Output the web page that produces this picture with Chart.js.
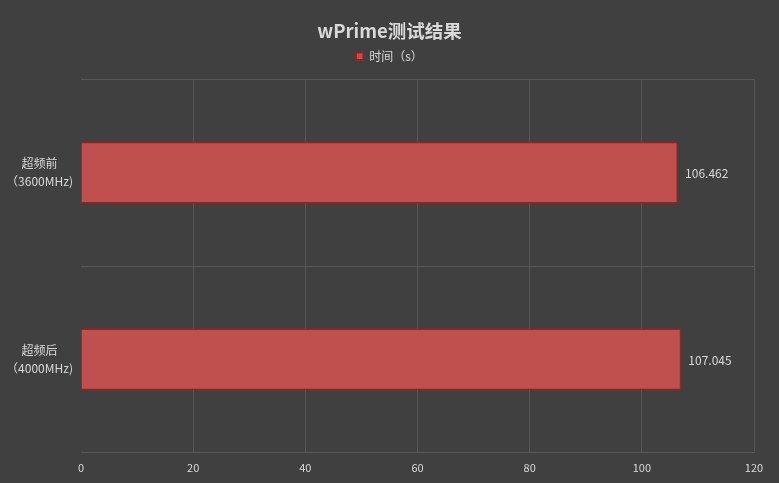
<!DOCTYPE html>
<html><head><meta charset="utf-8">
<script src="https://cdn.jsdelivr.net/npm/chart.js@4"></script>
<style>html,body{margin:0;padding:0;background:#404040;}#wrap{width:779px;height:483px;}</style>
</head><body><div id="wrap"><canvas id="c" width="779" height="483"></canvas></div>
<script>
const categories = [["超频前","（3600MHz)"],["超频后","（4000MHz)"]];
const values = [106.462, 107.045];
const valueLabels = ["106.462","107.045"];
const seriesName = "时间（s）";
const titleText = "wPrime测试结果";
const xTicks = [0,20,40,60,80,100,120];

const FONT = "'Noto Sans CJK SC','Noto Sans',sans-serif";
const valueLabelPlugin = {
  id:'vl',
  afterDatasetsDraw(chart){
    const ctx = chart.ctx;
    const meta = chart.getDatasetMeta(0);
    ctx.save();
    ctx.fillStyle = '#d9d9d9';
    ctx.font = "12px " + FONT;
    ctx.textBaseline = 'middle';
    meta.data.forEach((b,i)=>{ ctx.fillText(valueLabels[i], b.x + 7, b.y + 1); });
    ctx.restore();
  }
};
const bg = {id:'bg', beforeDraw(c){const x=c.ctx;x.save();x.fillStyle='#404040';x.fillRect(0,0,c.width,c.height);x.restore();}};
const legendGap = {id:'lgap', beforeLayout(chart){
  const lg = chart.legend;
  if (lg && !lg._wrapped){ const f = lg.fit; lg.fit = function(){ f.call(this); this.height += 7; }; lg._wrapped = true; }
}};

new Chart(document.getElementById('c'), {
  type:'bar',
  data:{labels:categories, datasets:[{label:seriesName, data:values, backgroundColor:'#c0504d', borderColor:'#a51c1c', borderWidth:1.5, barPercentage:0.66, categoryPercentage:0.5}]},
  options:{
    indexAxis:'y', responsive:false, animation:false,
    layout:{padding:{left:0,right:0,top:0,bottom:1}},
    plugins:{
      title:{display:true,text:titleText,color:'#d9d9d9',font:{family:FONT,size:18.5,weight:'bold'},padding:{top:20,bottom:0}},
      legend:{display:true,labels:{color:'#d9d9d9',font:{family:FONT,size:12},boxWidth:7,boxHeight:7,padding:8},onClick:null},
      tooltip:{enabled:false}
    },
    scales:{
      x:{min:0,max:120,afterBuildTicks(s){s.ticks=xTicks.map(v=>({value:v}));},
        afterFit(s){s.paddingRight=25;},
        grid:{color:(c)=>c.tick && c.tick.value===0 ? 'rgba(0,0,0,0)' : '#575757',drawTicks:false},border:{display:false},
        ticks:{color:'#d9d9d9',font:{family:FONT,size:11},padding:8}},
      y:{grid:{color:'#575757',drawTicks:false,offset:true},border:{display:false},
        afterFit(s){s.width=81;},
        ticks:{color:'#d9d9d9',font:{family:FONT,size:12,lineHeight:1.45},padding:8,crossAlign:'center'}}
    }
  },
  plugins:[bg,legendGap,valueLabelPlugin]
});
</script></body></html>
